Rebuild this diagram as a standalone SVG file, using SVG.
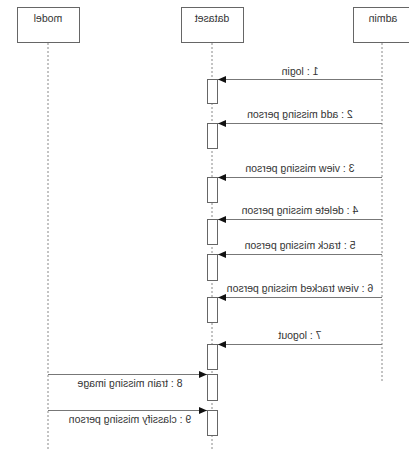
<svg xmlns="http://www.w3.org/2000/svg" width="409" height="450" viewBox="0 0 409 450">
<style>
.head{fill:#fff;stroke:#666;stroke-width:1}
.life{stroke:#888;stroke-width:1;stroke-dasharray:2,2;fill:none}
.act{fill:#fff;stroke:#666;stroke-width:1}
.msg{stroke:#777;stroke-width:1.2;fill:none;marker-end:url(#ah)}
text{font-family:"Liberation Sans",Arial,sans-serif;font-size:10.5px;fill:#333;text-anchor:middle}
</style>
<defs>
<marker id="ah" markerWidth="9" markerHeight="8" refX="8" refY="3.5" orient="auto" markerUnits="userSpaceOnUse">
<path d="M0,0 L8,3.5 L0,7 z" fill="#111"/>
</marker>
</defs>
<rect width="409" height="450" fill="#fff"/>
<g id="model">
<rect class="head" x="17.5" y="7.5" width="62" height="35"/>
<text x="-48" y="22" transform="scale(-1,1)">model</text>
<line class="life" x1="48" y1="43" x2="48" y2="450"/>
</g>
<g id="dataset">
<rect class="head" x="181.5" y="7.5" width="62" height="35"/>
<text x="-212" y="22" transform="scale(-1,1)">dataset</text>
<line class="life" x1="212" y1="43" x2="212" y2="450"/>
<rect class="act" x="207.5" y="79.5" width="10" height="24"/>
<rect class="act" x="207.5" y="123.5" width="10" height="25"/>
<rect class="act" x="207.5" y="177.5" width="10" height="25"/>
<rect class="act" x="207.5" y="219.5" width="10" height="25"/>
<rect class="act" x="207.5" y="254.5" width="10" height="26"/>
<rect class="act" x="207.5" y="297.5" width="10" height="25"/>
<rect class="act" x="207.5" y="344.5" width="10" height="25"/>
<rect class="act" x="207.5" y="374.5" width="10" height="26"/>
<rect class="act" x="207.5" y="410.5" width="10" height="25"/>
</g>
<g id="admin">
<rect class="head" x="353.5" y="7.5" width="58" height="35"/>
<text x="-383" y="22" transform="scale(-1,1)">admin</text>
<line class="life" x1="382" y1="43" x2="382" y2="382"/>
</g>
<g id="connectors">
<line class="msg" x1="382" y1="79.5" x2="218" y2="79.5"/>
<text x="-300" y="75" transform="scale(-1,1)">1 : login</text>
<line class="msg" x1="382" y1="123.5" x2="218" y2="123.5"/>
<text x="-300" y="118" transform="scale(-1,1)">2 : add missing person</text>
<line class="msg" x1="382" y1="177.5" x2="218" y2="177.5"/>
<text x="-300" y="172" transform="scale(-1,1)">3 : view missing person</text>
<line class="msg" x1="382" y1="219.5" x2="218" y2="219.5"/>
<text x="-300" y="214" transform="scale(-1,1)">4 : delete missing person</text>
<line class="msg" x1="382" y1="254.5" x2="218" y2="254.5"/>
<text x="-300" y="249" transform="scale(-1,1)">5 : track missing person</text>
<line class="msg" x1="382" y1="297.5" x2="218" y2="297.5"/>
<text x="-300" y="292" transform="scale(-1,1)">6 : view tracked missing person</text>
<line class="msg" x1="382" y1="344.5" x2="218" y2="344.5"/>
<text x="-300" y="339" transform="scale(-1,1)">7 : logout</text>
<line class="msg" x1="48" y1="374.5" x2="207" y2="374.5"/>
<text x="-130" y="387" transform="scale(-1,1)">8 : train missing image</text>
<line class="msg" x1="48" y1="410.5" x2="207" y2="410.5"/>
<text x="-130" y="423" transform="scale(-1,1)">9 : classify missing person</text>
</g>
</svg>
